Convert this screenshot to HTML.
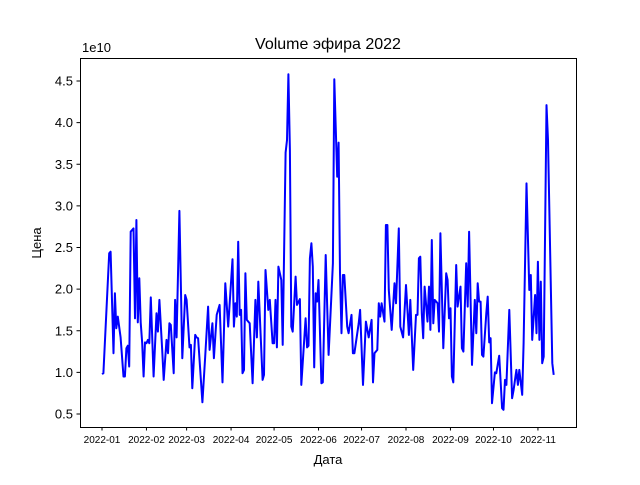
<!DOCTYPE html>
<html><head><meta charset="utf-8"><style>
html,body{margin:0;padding:0;background:#fff;}
svg text{font-family:"Liberation Sans","DejaVu Sans",sans-serif;fill:#000;}
</style></head><body>
<svg id="chart" width="640" height="480" viewBox="0 0 640 480" xmlns="http://www.w3.org/2000/svg">
<rect x="0" y="0" width="640" height="480" fill="#fff"/>
<text x="328" y="49" font-size="16" text-anchor="middle">Volume эфира 2022</text>
<text x="82" y="52" font-size="13">1e10</text>
<text x="328" y="464" font-size="13" text-anchor="middle">Дата</text>
<text x="0" y="0" font-size="13" text-anchor="middle" transform="translate(41,243) rotate(-90)">Цена</text>
<g id="ticks"></g>
<path id="series" fill="none" stroke="#0000ff" stroke-width="2" stroke-linejoin="round"/>
<rect x="80.5" y="58.5" width="496" height="369" fill="none" stroke="#000" stroke-width="1"/>
</svg>
<script>
const days=[0,1,5,6,8,9,10,11,13,15,16,17,18,19,20,22,23,24,25,26,27,28,29,30,31,32,33,34,36,38,39,40,42,43,45,46,47,48,50,51,52,54,56,58,59,61,62,63,65,66,67,70,72,74,75,77,78,80,82,84,86,88,91,92,93,94,95,96,97,98,99,100,101,103,105,107,108,109,112,113,114,116,117,119,120,121,122,123,125,126,128,129,130,131,132,133,135,136,138,139,142,143,144,145,146,147,148,149,150,151,153,154,156,158,161,162,164,165,166,167,168,169,171,172,174,175,176,179,180,182,184,186,188,189,190,192,193,194,195,197,198,199,200,202,204,205,207,208,210,212,214,215,217,219,220,221,222,223,224,225,227,228,229,230,231,232,234,235,236,238,240,241,242,243,244,245,247,248,250,251,252,254,255,256,258,260,261,262,263,264,265,266,268,269,270,271,272,274,275,277,279,280,281,282,284,286,287,289,290,291,293,294,296,298,299,300,302,303,304,305,306,307,308,310,311,314,315];
const values=[0.98,0.99,2.43,2.45,1.23,1.95,1.53,1.67,1.42,0.95,0.95,1.29,1.32,1.07,2.69,2.73,1.65,2.83,1.6,2.13,1.6,1.35,0.95,1.36,1.35,1.39,1.35,1.9,0.95,1.71,1.49,1.87,1.27,0.91,1.39,1.23,1.59,1.57,0.99,1.87,1.42,2.94,1.17,1.93,1.87,1.3,1.33,0.81,1.45,1.42,1.41,0.64,1.19,1.79,1.27,1.59,1.17,1.69,1.81,0.88,2.07,1.55,2.36,1.55,1.83,1.67,2.57,1.69,1.75,0.99,1.03,2.19,1.63,1.59,0.87,1.87,1.42,2.09,0.91,0.97,2.23,1.75,1.87,1.35,1.35,1.87,1.3,2.27,2.11,1.33,3.64,3.79,4.58,3.67,1.55,1.49,2.15,1.81,1.88,0.85,1.65,1.3,1.32,2.37,2.55,2.27,1.06,1.95,1.85,2.11,0.87,0.88,2.41,1.21,2.31,4.52,3.35,3.76,2.19,1.47,2.17,2.17,1.55,1.47,1.69,1.23,1.23,1.59,1.75,0.85,1.61,1.42,1.63,0.88,1.23,1.27,1.83,1.67,1.83,1.61,2.77,2.77,1.99,1.51,2.07,1.83,2.73,1.55,1.42,2.05,1.45,1.87,1.03,1.69,1.69,2.37,2.39,1.71,1.41,2.03,1.61,2.03,1.51,2.59,1.59,1.87,1.83,1.49,2.67,1.29,2.19,2.11,1.65,1.77,0.95,0.88,2.29,1.79,2.03,1.29,1.25,2.31,1.79,2.69,1.09,1.87,1.47,2.07,1.85,1.85,1.21,1.19,1.71,1.91,1.36,1.41,0.63,1.0,0.99,1.2,0.57,0.55,0.91,0.85,1.75,0.69,0.79,1.03,0.85,1.03,0.73,1.35,3.27,1.99,2.17,1.39,1.93,1.47,2.33,1.39,2.09,1.11,1.19,4.21,3.79,1.11,0.97];
const xTickDays=[0,31,59,90,120,151,181,212,243,273,304];
const xTickLabels=["2022-01","2022-02","2022-03","2022-04","2022-05","2022-06","2022-07","2022-08","2022-09","2022-10","2022-11"];
const yTickValues=[0.5,1.0,1.5,2.0,2.5,3.0,3.5,4.0,4.5];
const yTickLabels=["0.5","1.0","1.5","2.0","2.5","3.0","3.5","4.0","4.5"];

function xScale(d){return 102+d*1.434;}
function yScale(v){return 414-(v-0.5)*83.25;}

const NS="http://www.w3.org/2000/svg";
const tg=document.getElementById('ticks');
xTickDays.forEach((d,i)=>{
  const x=xScale(d);
  const l=document.createElementNS(NS,'line');
  l.setAttribute('x1',x);l.setAttribute('x2',x);l.setAttribute('y1',427);l.setAttribute('y2',430.5);
  l.setAttribute('stroke','#000');
  
  
  tg.appendChild(l);
  const t=document.createElementNS(NS,'text');
  t.setAttribute('x',x);t.setAttribute('y',443);t.setAttribute('font-size','10');t.setAttribute('text-anchor','middle');
  t.textContent=xTickLabels[i];
  
  
  tg.appendChild(t);
});
yTickValues.forEach((v,i)=>{
  const y=yScale(v);
  const l=document.createElementNS(NS,'line');
  l.setAttribute('x1',76.5);l.setAttribute('x2',80);l.setAttribute('y1',y);l.setAttribute('y2',y);
  l.setAttribute('stroke','#000');
  
  
  tg.appendChild(l);
  const t=document.createElementNS(NS,'text');
  t.setAttribute('x',73);t.setAttribute('y',y+4.5);t.setAttribute('font-size','13');t.setAttribute('text-anchor','end');
  t.textContent=yTickLabels[i];
  
  
  tg.appendChild(t);
});
let d='';
days.forEach((dy,i)=>{d+=(i?'L':'M')+xScale(dy).toFixed(1)+' '+yScale(values[i]).toFixed(1);});
document.getElementById('series').setAttribute('d',d);
</script>
</body></html>
